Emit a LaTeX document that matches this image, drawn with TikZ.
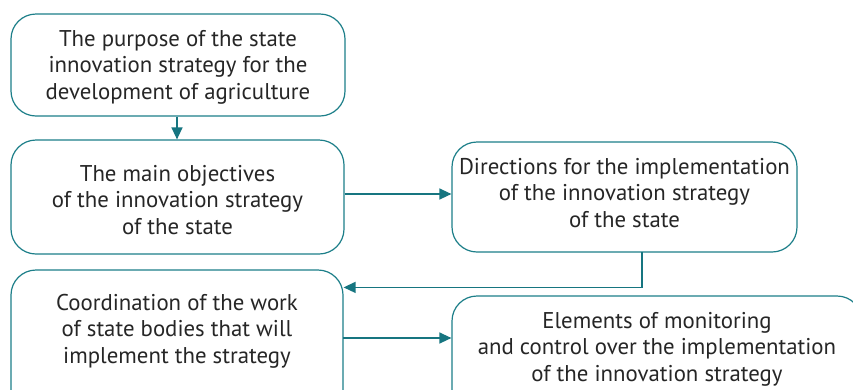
\documentclass[tikz,border=0pt]{standalone}
\usepackage{fontspec}
\setmainfont{PT Sans}
\usetikzlibrary{arrows.meta}
\definecolor{teal1}{HTML}{1D7F89}
\definecolor{teal2}{HTML}{167580}
\begin{document}
\begin{tikzpicture}[x=1pt,y=-1pt,
  box/.style={draw=teal1,line width=1.2pt,rounded corners=25pt,fill=white,
    minimum width=#1,inner sep=0pt},
  txt/.style={align=center,font=\fontsize{22.8}{26.5}\selectfont,text=black!85},
  arr/.style={draw=teal2,line width=1.3pt,-{Triangle[length=12pt,width=11pt]}}]
\clip (0,0) rectangle (853,389);
\fill[white] (0,0) rectangle (853,389);
% boxes
\node[box=334pt,minimum height=102pt] (b1) at (178,65) {};
\node[txt] (t1) at (178,67) {The purpose of the state\\innovation strategy for the\\development of agriculture};
\node[box=333pt,minimum height=114pt] (b2) at (177.5,197) {};
\node[txt] (t2) at (177.5,200) {The main objectives\\of the innovation strategy\\of the state};
\node[box=345pt,minimum height=110pt] (b3) at (624.5,197) {};
\node[txt] (t3) at (624.5,193) {Directions for the implementation\\of the innovation strategy\\of the state};
\node[box=332pt,minimum height=150pt] (b4) at (177,345) {};
\node[txt] (t4) at (177,331) {Coordination of the work\\of state bodies that will\\implement the strategy};
\node[box=410pt,minimum height=130pt] (b5) at (657,361) {};
\node[txt] (t5) at (657,349) {Elements of monitoring\\and control over the implementation\\of the innovation strategy};
% connectors
\draw[arr] (b1.south -| 177,0) -- (b2.north -| 177,0);
\draw[arr] ([yshift=3pt]b2.east) -- ([yshift=3pt]b3.west);
\coordinate (c1) at (642,252);
\draw[arr] (c1) |- ([yshift=-18pt]b4.north east);
\coordinate (c2) at (343,338);
\draw[arr] (c2) -- (c2 -| b5.west);
\end{tikzpicture}
\end{document}
